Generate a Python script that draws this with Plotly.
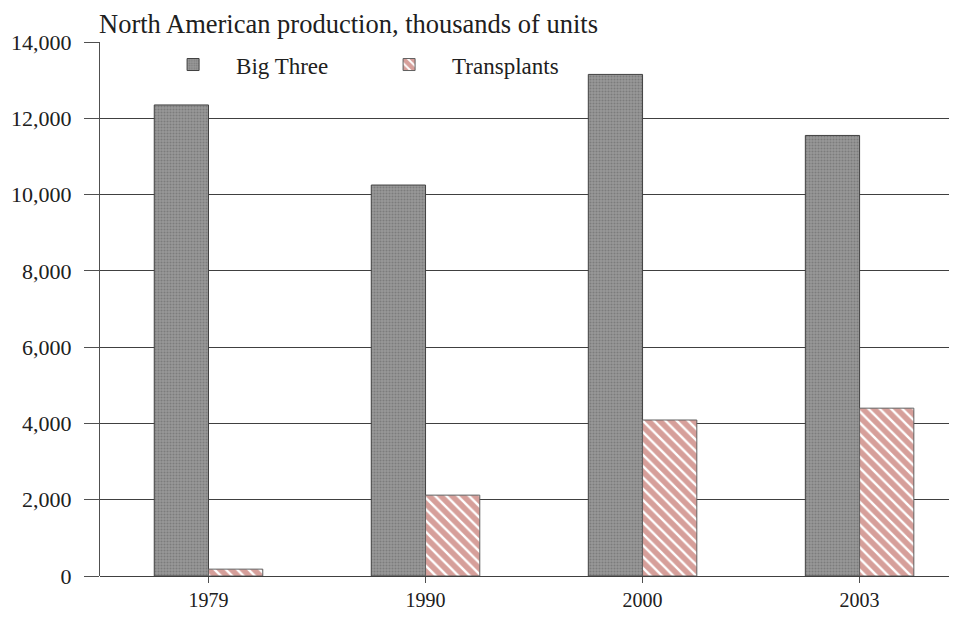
import plotly.graph_objects as go

years = ["1979", "1990", "2000", "2003"]
big_three = [12350, 10250, 13150, 11550]
transplants = [180, 2120, 4090, 4400]
y_ticks = [0, 2000, 4000, 6000, 8000, 10000, 12000, 14000]

serif = "Liberation Serif, Times New Roman, serif"
axis_col = "#505050"

fig = go.Figure()
fig.add_trace(go.Bar(
    x=years, y=big_three, name="Big Three",
    marker=dict(color="#8a8a8a", line=dict(color="#404040", width=1),
                pattern=dict(shape=".", fgcolor="#606060", bgcolor="#999999",
                             size=3, solidity=0.4)),
))
fig.add_trace(go.Bar(
    x=years, y=transplants, name="Transplants",
    marker=dict(color="white", line=dict(color="#606060", width=1),
                pattern=dict(shape="\\", fgcolor="#ad4036", bgcolor="white",
                             size=8, solidity=0.7)),
))

# page body has an 8px margin, so the figure is sized to fit inside the window
fig.update_layout(
    width=941, height=602,
    barmode="group", bargap=0.5, bargroupgap=0,
    plot_bgcolor="white", paper_bgcolor="white",
    margin=dict(l=92, r=0, t=34, b=34),
    font=dict(family=serif, size=20, color="#202020"),
    showlegend=True,
    legend=dict(orientation="h", x=0.059, y=0.998, xanchor="left", yanchor="top",
                bgcolor="rgba(0,0,0,0)", font=dict(size=23, family=serif),
                itemwidth=76,
                entrywidth=125, entrywidthmode="pixels", traceorder="normal"),
    xaxis=dict(
        range=[-0.5, 3.412], showline=False, showgrid=False, automargin=False,
        ticks="outside", ticklen=6, tickcolor=axis_col, tickwidth=1,
        tickfont=dict(family=serif, size=20),
    ),
    yaxis=dict(
        range=[0, 14000], tickvals=y_ticks, tickformat=",", automargin=False,
        showline=True, linecolor=axis_col, linewidth=1,
        showgrid=True, gridcolor="#404040", gridwidth=1,
        ticks="outside", ticklen=15, tickcolor=axis_col, ticklabelstandoff=8,
        zeroline=True, zerolinecolor="#404040", zerolinewidth=1,
        tickfont=dict(family=serif, size=22),
    ),
)

fig.add_annotation(
    text="North American production, thousands of units",
    xref="paper", yref="paper", x=-0.004, y=1.0, xanchor="left", yanchor="bottom",
    showarrow=False, font=dict(family=serif, size=26.5, color="#202020"), yshift=1,
)

fig.write_html("out.html")
